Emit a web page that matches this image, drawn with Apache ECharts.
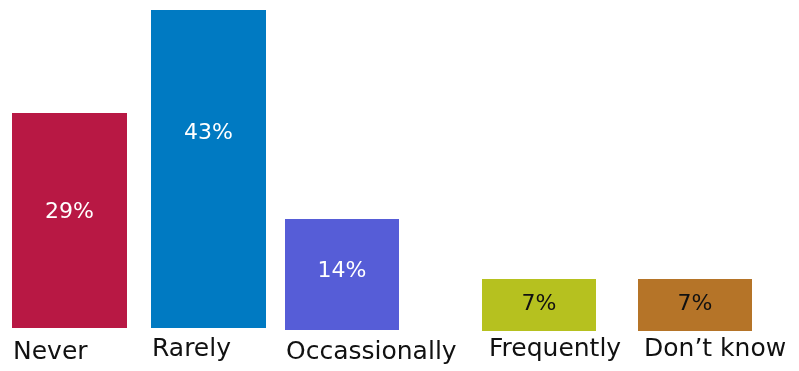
<!DOCTYPE html>
<html>
<head>
<meta charset="utf-8">
<script src="https://cdn.jsdelivr.net/npm/echarts@6/dist/echarts.min.js"></script>
<style>html,body{margin:0;padding:0;background:#fff}#c{width:799px;height:371px}</style>
</head>
<body>
<div id="c"></div>
<script>
const categories = ["Never", "Rarely", "Occassionally", "Frequently", "Don\u2019t know"];
const values = [29, 43, 14, 7, 7];
const colors = ["#B81844", "#007AC2", "#565DD7", "#B6C11F", "#B57428"];
const labelColors = ["#ffffff", "#ffffff", "#ffffff", "#111111", "#111111"];

// layout (pixels)
const boxes = [
  {left: 12, width: 115, top: 113, bottom: 43, labelDy: 99, catShift: -56.5, catMargin: 12},
  {left: 151, width: 115, top: 10, bottom: 43, labelDy: 123, catShift: -56.5, catMargin: 9},
  {left: 285, width: 114, top: 219, bottom: 41, labelDy: 52, catShift: -56, catMargin: 10},
  {left: 482, width: 114, top: 279, bottom: 40, labelDy: 25, catShift: -50, catMargin: 6},
  {left: 638, width: 114, top: 279, bottom: 40, labelDy: 25, catShift: -51, catMargin: 6}
];
const FONT = "DejaVu Sans";

const grid = [], xAxis = [], yAxis = [], series = [];
categories.forEach((cat, i) => {
  const b = boxes[i];
  grid.push({left: b.left, width: b.width, top: b.top, bottom: b.bottom, containLabel: false});
  xAxis.push({
    type: 'category', gridIndex: i, data: [cat],
    axisLine: {show: false}, axisTick: {show: false},
    axisLabel: {
      show: true, align: 'left', verticalAlign: 'top', margin: b.catMargin,
      padding: [0, 0, 0, b.catShift],
      fontFamily: FONT, fontSize: 25, color: '#111', lineHeight: 25
    }
  });
  yAxis.push({type: 'value', gridIndex: i, min: 0, max: v => v.max, show: false, splitLine: {show: false}});
  series.push({
    type: 'bar', name: cat, xAxisIndex: i, yAxisIndex: i, data: [values[i]],
    barWidth: b.width, barGap: '0%', itemStyle: {color: colors[i]},
    label: {
      show: true, position: ['50%', b.labelDy], align: 'center', verticalAlign: 'middle',
      formatter: p => p.value + '%', fontFamily: FONT, fontSize: 22, color: labelColors[i]
    },
    silent: true, animation: false
  });
});

const chart = echarts.init(document.getElementById('c'), null, {renderer: 'canvas'});
chart.setOption({animation: false, grid, xAxis, yAxis, series});
</script>
</body>
</html>
